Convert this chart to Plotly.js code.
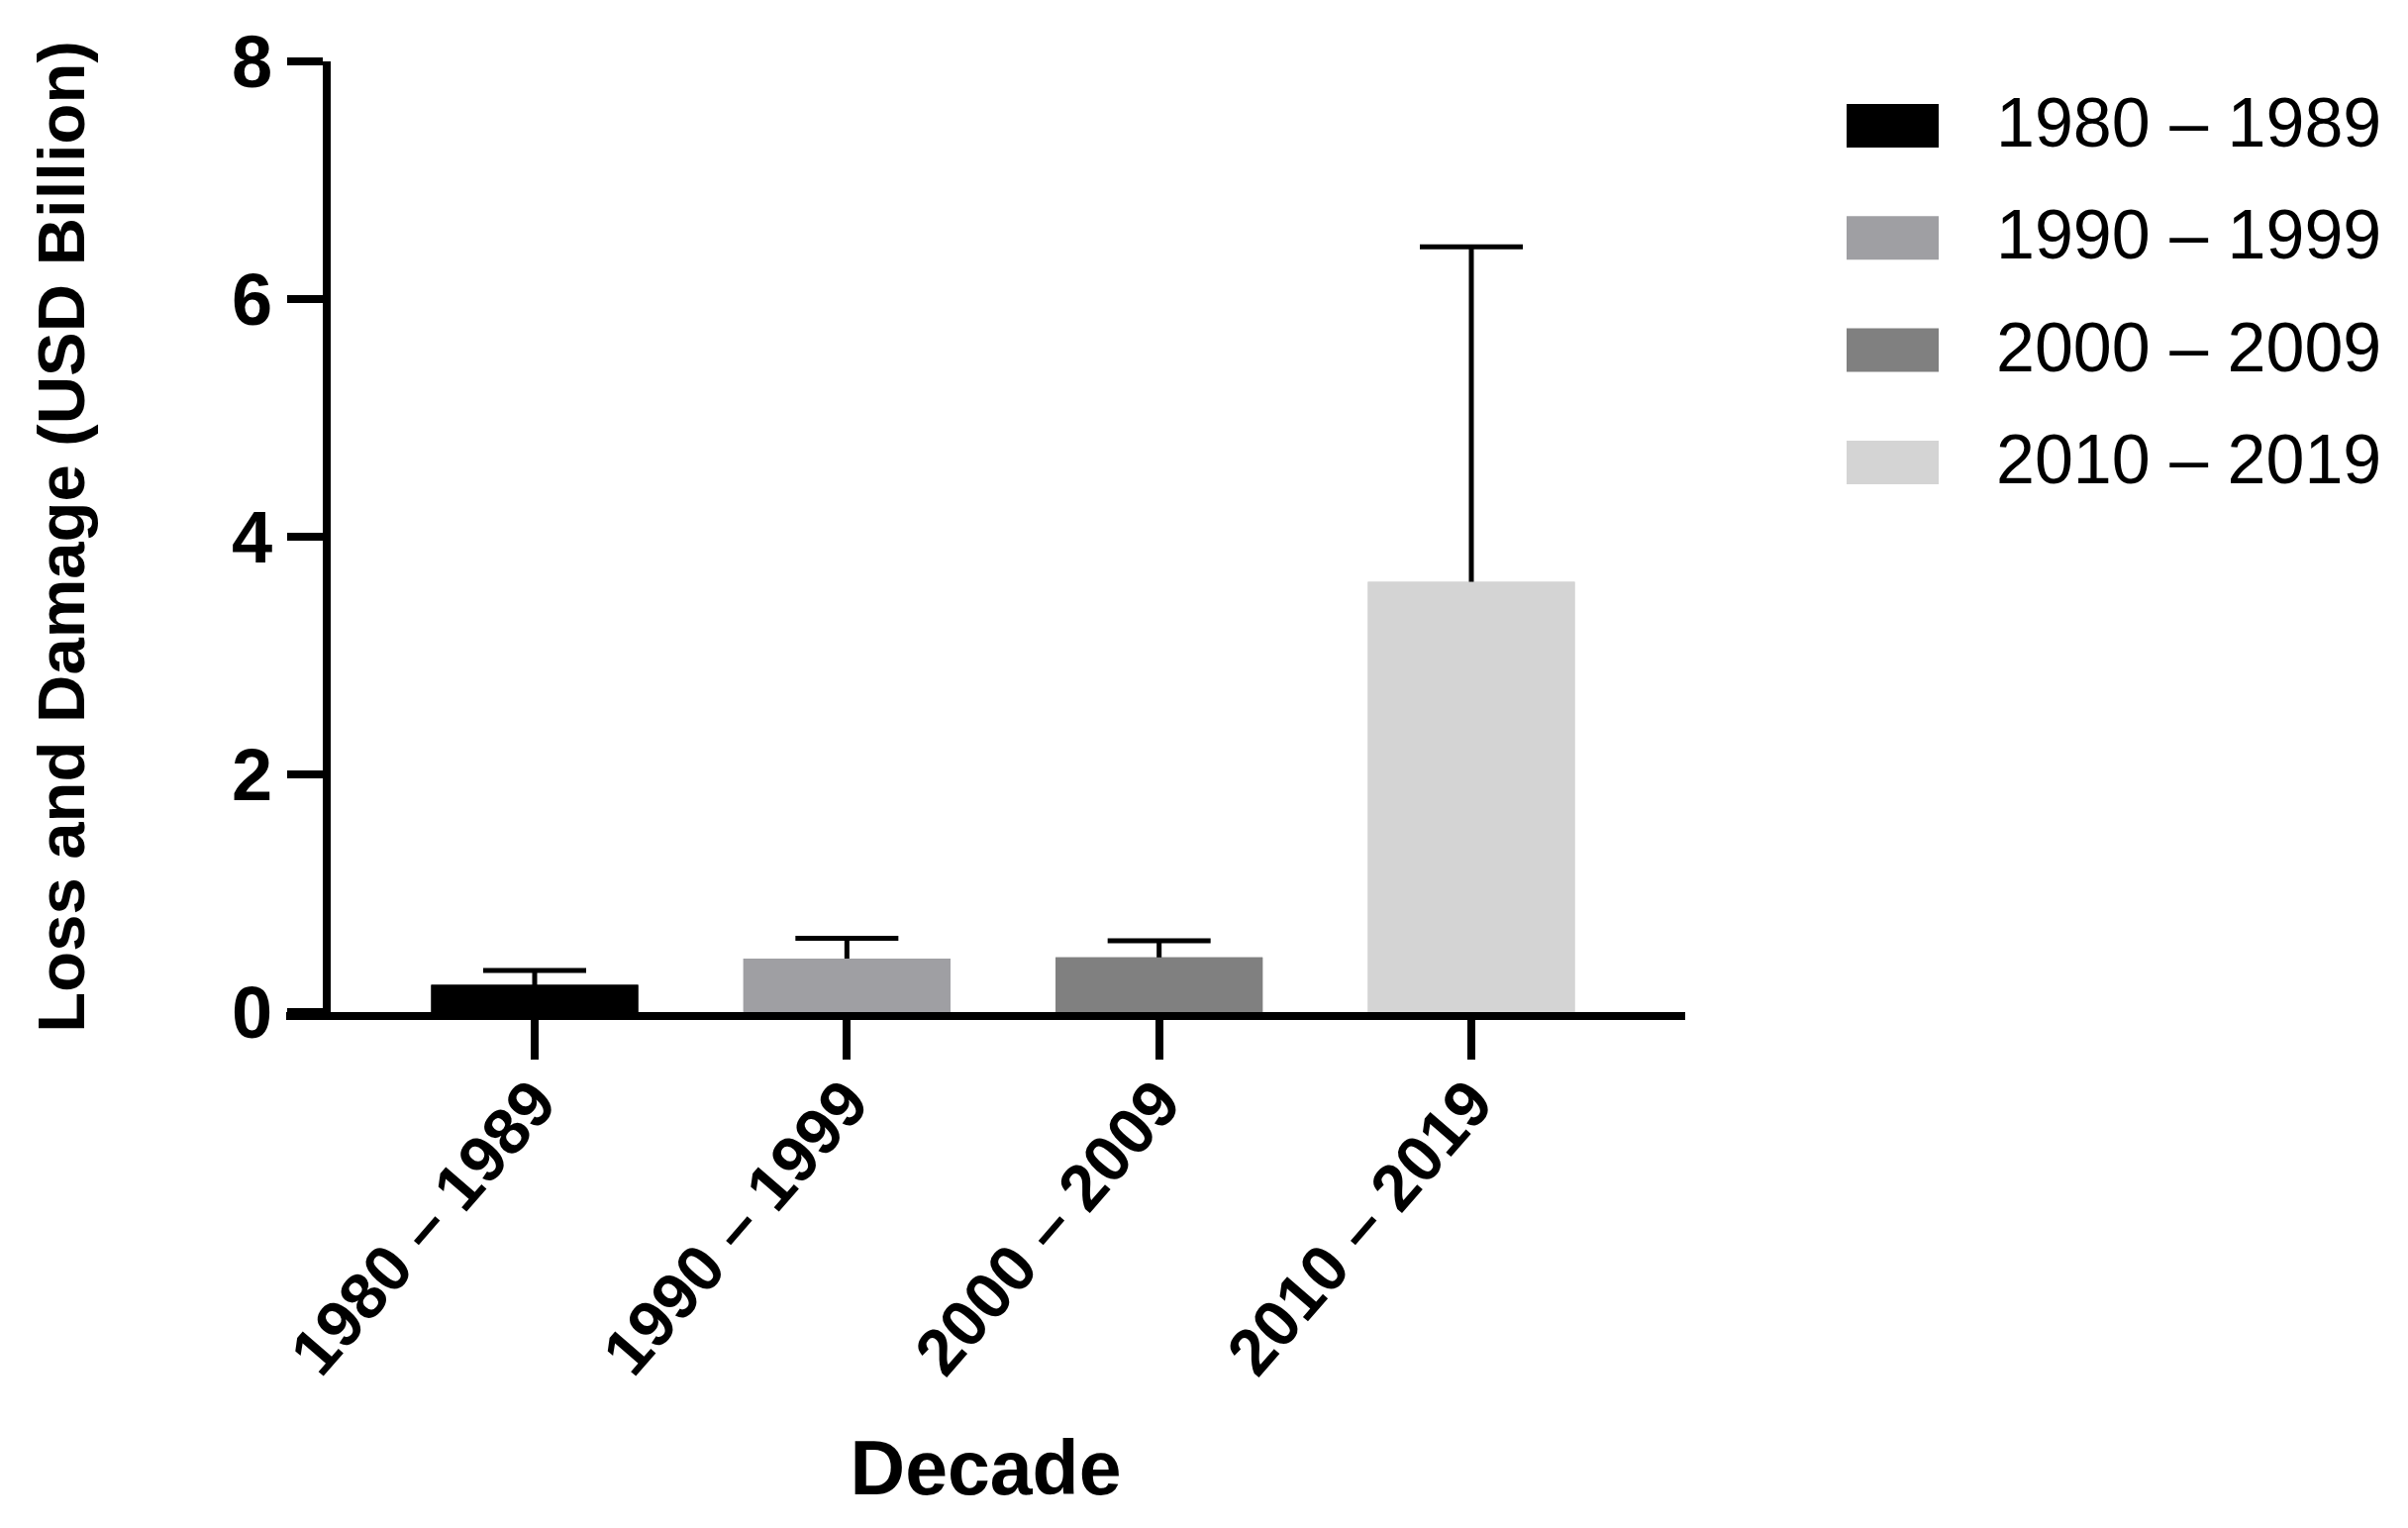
<!DOCTYPE html>
<html>
<head>
<meta charset="utf-8">
<script src="https://cdn.plot.ly/plotly-3.0.1.min.js"></script>
<style>
  html, body { margin: 0; padding: 0; background: #ffffff; }
  #chart { width: 2432px; height: 1543px; }
</style>
</head>
<body>
<div id="chart"></div>
<script>
// ---- data ----
const decades = ["1980 – 1989", "1990 – 1999", "2000 – 2009", "2010 – 2019"];
const meanLoss = [0.23, 0.45, 0.46, 3.62];
const errUpper = [0.12, 0.17, 0.14, 2.82];
const barColors = ["#000000", "#9f9fa3", "#808080", "#d4d4d4"];
const yTicks = [0, 2, 4, 6, 8];

// ---- layout geometry (pixels) ----
const W = 2432, H = 1543;
const M = { l: 289, r: 730, t: 62, b: 521 };
const PW = W - M.l - M.r, PH = H - M.t - M.b;
const px2x = (px) => (px - M.l) / PW;
const px2y = (py) => (H - M.b - py) / PH;

const boldFont = "Liberation Sans, Arial, Helvetica, sans-serif";

// Trace with error bars (drawn first), then identical bars on top to hide lower half
const traceErr = {
  type: "bar",
  x: decades,
  y: meanLoss,
  width: 0.663,
  marker: { color: barColors, line: { width: 0 } },
  error_y: {
    type: "data",
    symmetric: true,
    array: errUpper,
    color: "#000000",
    thickness: 5,
    width: 52
  },
  hoverinfo: "x+y",
  showlegend: false
};
const traceCover = {
  type: "bar",
  x: decades,
  y: meanLoss,
  width: 0.663,
  marker: { color: barColors, line: { width: 0 } },
  hoverinfo: "skip",
  showlegend: false
};

// Custom legend (large swatches like the reference)
const shapes = [];
const annotations = [];
const legX0 = 1865, legX1 = 1958, legTextX = 2014;
const legRow0 = 127, legStep = 113.3, swH = 44;
decades.forEach((d, i) => {
  const cy = legRow0 + i * legStep;
  shapes.push({
    type: "rect", xref: "paper", yref: "paper",
    x0: px2x(legX0), x1: px2x(legX1),
    y0: px2y(cy + swH / 2), y1: px2y(cy - swH / 2),
    fillcolor: barColors[i], line: { width: 0 }
  });
  annotations.push({
    xref: "paper", yref: "paper",
    x: px2x(legTextX), y: px2y(cy - 3),
    xanchor: "left", yanchor: "middle",
    text: d, showarrow: false,
    font: { family: "Liberation Sans, Arial, sans-serif", size: 70, color: "#000000" }
  });
});

const layout = {
  width: W, height: H,
  margin: M,
  paper_bgcolor: "#ffffff",
  plot_bgcolor: "#ffffff",
  barmode: "overlay",
  showlegend: false,
  xaxis: {
    type: "category",
    range: [-0.796, 3.685],
    showline: true, linewidth: 8, linecolor: "#000000",
    ticks: "outside", ticklen: 40, tickwidth: 8, tickcolor: "#000000",
    tickangle: -49,
    ticklabelstandoff: -22,
    tickfont: { family: boldFont, size: 66, color: "#000000", weight: "bold" },
    showgrid: false, zeroline: false,
    title: {
      text: "Decade",
      font: { family: boldFont, size: 77, color: "#000000", weight: "bold" },
      standoff: 57
    }
  },
  yaxis: {
    range: [0, 8],
    tickvals: yTicks,
    ticktext: yTicks.map(String),
    anchor: "free",
    position: px2x(330),
    showline: true, linewidth: 8, linecolor: "#000000",
    ticks: "outside", ticklen: 36, tickwidth: 8, tickcolor: "#000000",
    tickfont: { family: boldFont, size: 74, color: "#000000", weight: "bold" },
    showgrid: false, zeroline: false,
    title: {
      text: "Loss and Damage (USD Billion)",
      font: { family: boldFont, size: 67, color: "#000000", weight: "bold" },
      standoff: 126
    }
  },
  shapes: shapes,
  annotations: annotations
};

Plotly.newPlot("chart", [traceErr, traceCover], layout, { displayModeBar: false, staticPlot: true });
</script>
</body>
</html>
